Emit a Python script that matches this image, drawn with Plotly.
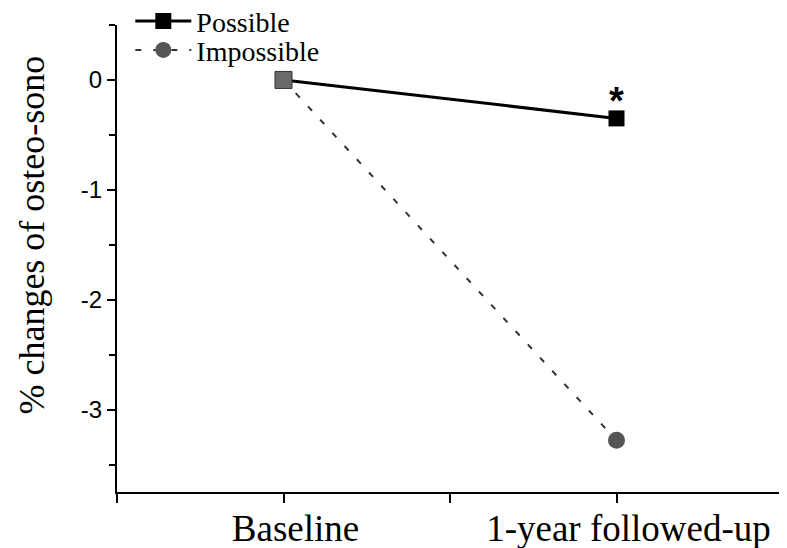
import plotly.graph_objects as go

x_pos = [1, 3]
tick_vals = [0, 1, 2, 3, 4]
tick_text = ["", "Baseline", "", "1-year followed-up", ""]
y_tick_vals = [0, -1, -2, -3]
y_tick_text = ["0", "-1", "-2", "-3"]
possible = [0, -0.35]
impossible = [0, -3.28]
y_title = "% changes of osteo-sono"

fig = go.Figure()
fig.add_trace(go.Scatter(
    x=x_pos, y=impossible, name="Impossible", mode="lines+markers",
    line=dict(color="#333333", width=2, dash="6px,12px"),
    marker=dict(symbol="circle", size=17, color="#555555"),
    legend="legend2",
))
fig.add_trace(go.Scatter(
    x=x_pos, y=possible, name="Possible", mode="lines+markers",
    line=dict(color="black", width=3),
    marker=dict(symbol="square", size=16, color="black"),
    legend="legend",
))
# baseline overlap marker (grey square where both series start)
fig.add_trace(go.Scatter(
    x=x_pos[:1], y=possible[:1], mode="markers", showlegend=False,
    marker=dict(symbol="square", size=17, color="#6a6a6a",
                line=dict(color="#333333", width=1)),
))
fig.add_annotation(x=x_pos[1], y=possible[1], text="<b>*</b>", showarrow=False,
                   yshift=17, font=dict(family="Liberation Sans", size=38, color="black"))
fig.add_annotation(x=-0.127, y=0.55, xref="paper", yref="paper", text=y_title,
                   textangle=-90, showarrow=False, xanchor="center", yanchor="middle",
                   font=dict(family="Liberation Serif", size=36, color="black"))

legend_font = dict(family="Liberation Serif", size=28, color="black")
fig.update_layout(
    width=779, height=540,
    margin=dict(l=109, r=4, t=17, b=56, autoexpand=False),
    plot_bgcolor="white", paper_bgcolor="white",
    showlegend=True,
    legend=dict(x=0.02, y=1.008, xanchor="left", yanchor="middle",
                font=legend_font, bgcolor="rgba(0,0,0,0)", itemwidth=56),
    legend2=dict(x=0.02, y=0.946, xanchor="left", yanchor="middle",
                 font=legend_font, bgcolor="rgba(0,0,0,0)", itemwidth=56),
    xaxis=dict(range=[0, 4], tickvals=tick_vals, ticktext=tick_text,
               showline=True, linecolor="black", linewidth=2,
               ticks="outside", ticklen=9, tickwidth=1.5, tickcolor="black",
               showgrid=False, zeroline=False, ticklabelshift=12,
               ticklabelstandoff=-6,
               tickfont=dict(family="Liberation Serif", size=37, color="black")),
    yaxis=dict(range=[-3.75, 0.5], tickvals=y_tick_vals, ticktext=y_tick_text,
               showline=True, linecolor="black", linewidth=2,
               ticks="outside", ticklen=8, tickwidth=1.5, tickcolor="black",
               minor=dict(dtick=0.5, tick0=0, ticks="outside", ticklen=6,
                          tickcolor="black", tickwidth=1.5),
               showgrid=False, zeroline=False,
               tickfont=dict(family="Liberation Sans", size=24, color="black")),
)
fig.write_html("out.html")
